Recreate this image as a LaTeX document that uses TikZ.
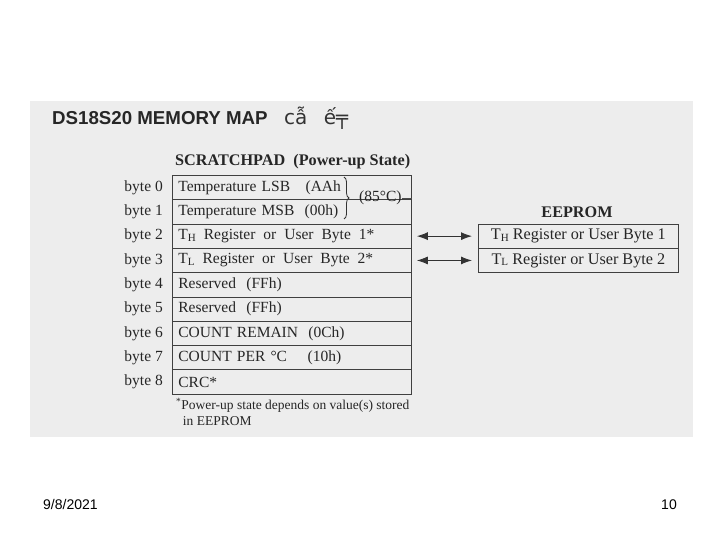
\documentclass[tikz,border=0pt]{standalone}
\usepackage{fontspec}
\setmainfont{Liberation Serif}
\setsansfont{Liberation Sans}
\newfontfamily\djv{DejaVu Sans}
\usetikzlibrary{arrows.meta,decorations.pathreplacing}
\newcommand{\lowsub}[1]{{\fontsize{11}{11}\selectfont\raisebox{-1.5pt}{#1}}}
\newcommand{\wsp}{\hspace{8pt}}
\begin{document}
\begin{tikzpicture}[x=1pt,y=-1pt,
  rowbox/.style={draw=black!75, line width=0.8pt, minimum width=239pt, minimum height=24.3pt,
     anchor=north west, inner xsep=6pt, inner ysep=0pt, text width=227pt, align=left,
     font=\fontsize{15.5}{15.5}\selectfont, text=black!85},
  ebox/.style={draw=black!75, line width=0.8pt, minimum width=200pt, minimum height=24.3pt,
     anchor=north west, inner sep=0pt, align=center,
     font=\fontsize{16.2}{16.2}\selectfont, text=black!85},
  bytelbl/.style={anchor=east, inner sep=0pt, font=\fontsize{15.5}{15.5}\selectfont, text=black!85},
  arr/.style={{Latex[length=11pt,width=8pt]}-{Latex[length=11pt,width=8pt]}, line width=0.9pt, black!80}]
\useasboundingbox (0,0) rectangle (720,540);
\fill[black!7] (30,101) rectangle (693,437);
% title
\node[anchor=west, inner sep=0pt, font=\sffamily\bfseries\fontsize{18.7}{18.7}\selectfont, text=black!85] (title) at (52,118) {DS18S20 MEMORY MAP};
\node[anchor=west, inner sep=0pt, font=\djv\fontsize{20}{20}\selectfont, text=black!80] (garb) at (284,118) {cẫ\,\,\, ế╤};
% scratchpad heading
\node[anchor=west, inner sep=0pt, font=\bfseries\fontsize{16.2}{16.2}\selectfont, text=black!85] (sph) at (175,162) {SCRATCHPAD\ \ (Power-up State)};
% rows
\node[rowbox] (r0) at (172,175.0) {Temperature LSB\ \ \ (AAh};
\node[rowbox] (r1) at (172,199.3) {Temperature MSB\ \ (00h)};
\node[rowbox] (r2) at (172,223.6) {T\lowsub{H}\wsp Register\wsp or\wsp User\wsp Byte\wsp 1*};
\node[rowbox] (r3) at (172,247.9) {T\lowsub{L}\wsp Register\wsp or\wsp User\wsp Byte\wsp 2*};
\node[rowbox] (r4) at (172,272.2) {Reserved\ \ (FFh)};
\node[rowbox] (r5) at (172,296.5) {Reserved\ \ (FFh)};
\node[rowbox] (r6) at (172,320.8) {COUNT REMAIN\ \ (0Ch)};
\node[rowbox] (r7) at (172,345.1) {COUNT PER °C\ \ \ \ (10h)};
\node[rowbox] (r8) at (172,369.4) {CRC*};
% byte labels
\foreach \i in {0,...,8} {
  \node[bytelbl] (b\i) at ([xshift=-9pt]r\i.west) {byte \i};
}
% brace
\draw[black!80, line width=0.8pt, decorate, decoration={brace, amplitude=5pt}] (344,177) -- (344,219);
\node[anchor=west, inner sep=0pt, font=\fontsize{15.5}{15.5}\selectfont, text=black!85] (t85) at (359,198) {(85°C)};
\draw[black!70, line width=0.6pt] (t85.east) -- (r0.east |- t85.east);
% EEPROM
\node[inner sep=0pt, font=\bfseries\fontsize{16.2}{16.2}\selectfont, text=black!85] (eh) at (577,212) {EEPROM};
\node[ebox] (e0) at (478,223.6) {T\lowsub{H} Register or User Byte 1};
\node[ebox] (e1) at (478,247.9) {T\lowsub{L} Register or User Byte 2};
% arrows
\draw[arr, shorten <=5pt, shorten >=6pt] (r2.east) -- (e0.west);
\draw[arr, shorten <=5pt, shorten >=6pt] (r3.east) -- (e1.west);
% footnote
\node[anchor=north west, inner sep=0pt, align=left, font=\fontsize{13.5}{16}\selectfont, text=black!85] (fn) at (176,398) {\textsuperscript{*}Power-up state depends on value(s) stored\\\ \ in EEPROM};
% footer
\node[anchor=base west, inner sep=0pt, font=\sffamily\fontsize{14}{14}\selectfont] (date) at (43,509) {9/8/2021};
\node[anchor=base east, inner sep=0pt, font=\sffamily\fontsize{14}{14}\selectfont] (pg) at (677,509) {10};
\end{tikzpicture}
\end{document}
